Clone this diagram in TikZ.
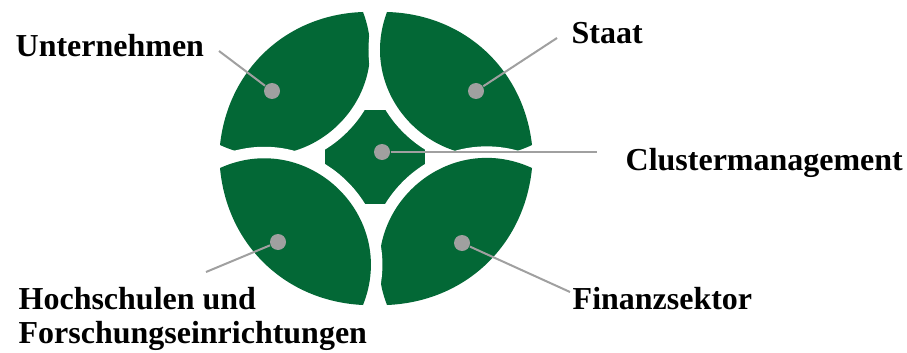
\documentclass[tikz,border=0pt]{standalone}
\usepackage{fontspec}
\setmainfont{Liberation Serif}
\definecolor{clgreen}{RGB}{3,104,54}
\definecolor{clgray}{RGB}{160,160,160}
\tikzset{
  leaf/.style={fill=clgreen,preaction={draw=white,line width=0.23cm,line join=round}},
  dot/.style={circle,fill=clgray,inner sep=0pt,minimum size=0.16cm},
  link/.style={draw=clgray,line width=0.02cm},
  lbl/.style={font=\fontsize{9.1}{9.7}\selectfont\bfseries,inner sep=0pt,align=left}
}
\begin{document}
\begin{tikzpicture}
        \useasboundingbox (0,0) rectangle (9.07,3.52);
        % centro
        \fill [clgreen] (3.25,1.48) rectangle (4.25,2.42);
        % foglie
        \coordinate (tlA) at (2.20,2.07);\coordinate (tlB) at (3.63,3.40);
        \coordinate (trA) at (3.87,3.40);\coordinate (trB) at (5.32,2.07);
        \coordinate (brA) at (5.32,1.84);\coordinate (brB) at (3.87,0.47);
        \coordinate (blA) at (3.63,0.47);\coordinate (blB) at (2.20,1.84);
        \path [leaf] (tlA) to[bend left=41] (tlB) to[bend left=68,looseness=1.24] (tlA) -- cycle;
        \path [leaf] (trA) to[bend left=41] (trB) to[bend left=68,looseness=1.24] (trA) -- cycle;
        \path [leaf] (brA) to[bend left=41] (brB) to[bend left=68,looseness=1.24] (brA) -- cycle;
        \path [leaf] (blA) to[bend left=41] (blB) to[bend left=68,looseness=1.24] (blA) -- cycle;
        % punti
        \node [dot] (unt) at (2.72,2.61) {};\node [dot] (sta) at (4.76,2.61) {};
        \node [dot] (clu) at (3.82,2.00) {};
        \node [dot] (hoc) at (2.78,1.10) {};\node [dot] (fin) at (4.62,1.09) {};
        % linee
        \coordinate (untE) at (2.19,3.01);\coordinate (staE) at (5.57,3.14);
        \coordinate (cluE) at (5.97,2.00);
        \coordinate (hocE) at (2.06,0.80);\coordinate (finE) at (5.70,0.60);
        \draw [link] (unt) -- (untE);\draw [link] (sta) -- (staE);
        \draw [link] (clu) -- (cluE);
        \draw [link] (hoc) -- (hocE);\draw [link] (fin) -- (finE);
        % etichette
        \node [lbl,anchor=base west] (untL) at (0.15,2.95) {Unternehmen};
        \node [lbl,anchor=base west] (staL) at (5.71,3.08) {Staat};
        \node [lbl,anchor=base west] (cluL) at (6.25,1.82) {Clustermanagement};
        \node [lbl,anchor=base west] (finL) at (5.72,0.43) {Finanzsektor};
        \node [lbl,anchor=north west] (hocL) at (0.18,0.65) {Hochschulen und\\Forschungseinrichtungen};
    \end{tikzpicture}
\end{document}
